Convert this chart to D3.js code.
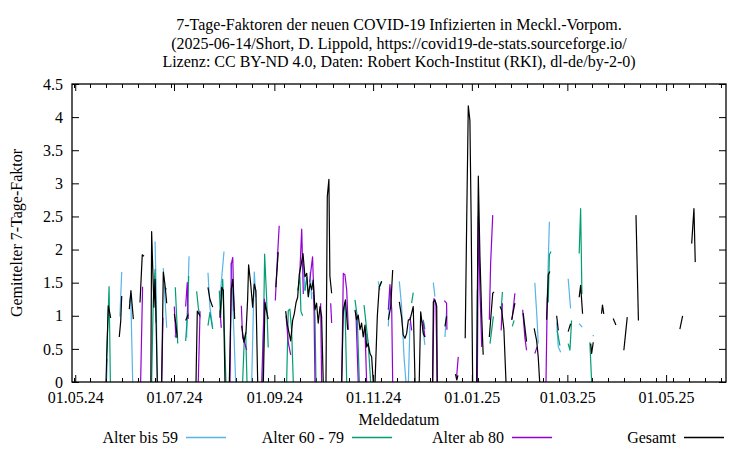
<!DOCTYPE html>
<html><head><meta charset="utf-8">
<script src="https://cdn.jsdelivr.net/npm/d3@7"></script>
<style>
body{margin:0;background:#fff}
svg{display:block}
svg text{font-family:"Liberation Serif","Times New Roman",serif !important;font-size:16px !important;fill:#000}
</style>
</head><body>
<svg id="chart" width="750" height="450" font-family="Liberation Serif" font-size="16"></svg>
<script>
const titleLines = [
  "7-Tage-Faktoren der neuen COVID-19 Infizierten in Meckl.-Vorpom.",
  "(2025-06-14/Short, D. Lippold, https://covid19-de-stats.sourceforge.io/",
  "Lizenz: CC BY-ND 4.0, Daten: Robert Koch-Institut (RKI), dl-de/by-2-0)"
];
const xLabel = "Meldedatum";
const yLabel = "Gemittelter 7-Tage-Faktor";
const seriesNames = ["Alter bis 59", "Alter 60 - 79", "Alter ab 80", "Gesamt"];
const seriesColors = ["#56b4e9", "#009e73", "#9400d3", "#000000"];
const yTicks = [0, 0.5, 1, 1.5, 2, 2.5, 3, 3.5, 4, 4.5];
const xTickDates = ["2024-05-01", "2024-07-01", "2024-09-01", "2024-11-01", "2025-01-01", "2025-03-01", "2025-05-01"];
const xStart = "2024-04-29", xEnd = "2025-06-07";
const baseDate = "2024-05-01"; // day offsets below count from this date

// segments of [day offset, value]; gaps between segments
const alterBis59 = [
  [[19.4,0.05],[19.8,0.35]],
  [[27.6,0.99],[28.7,1.66]],
  [[33.4,1.2],[34.3,1.3],[35.5,0]],
  [[49.3,2.12],[49.9,1.48],[50.7,0]],
  [[54.4,1.72],[55.4,1.28],[56.5,0.82]],
  [[61.2,0.7],[62.7,0.67]],
  [[68.8,0.67],[70.3,1.9]],
  [[82.0,1.65],[83.2,1.13],[84.9,0.82]],
  [[89.4,1.28],[90.5,1.58],[91.9,1.97]],
  [[96.2,1.8],[97.3,1.23],[99.1,0]],
  [[109.0,0],[110.6,1.66],[111.6,1.28]],
  [[124.4,1.94],[125.4,1.96]],
  [[140.9,1.78],[141.9,1.38]],
  [[145.1,1.66],[146.1,1.25]],
  [[180.0,0.73],[181.0,0.58]],
  [[187.2,1.52],[188.2,1.39]],
  [[193.4,0.84],[194.4,1.39]],
  [[200.2,1.52],[201.6,1.14],[203.1,0.38],[204.3,0]],
  [[205.8,0],[206.8,0.89]],
  [[214.4,0.88],[216.0,0.56]],
  [[221.2,1.5],[222.2,1.29]],
  [[228.4,0.68],[229.4,1.09]],
  [[283.9,1.5],[285.3,0.94],[286.0,0.58]],
  [[291.6,1.29],[292.9,2.42]],
  [[297.4,0.9],[298.4,0.53],[299.9,0.45]],
  [[304.5,1.56],[306.0,1.11]],
  [[311.3,0.88],[313.2,0.83]],
  [[319.6,0.7],[320.4,0.7]]
];
const alter60bis79 = [
  [[19.3,0.3],[20.9,1.44],[21.7,0]],
  [[47.2,0],[48.2,1.25],[49.3,1.7],[49.9,0.9]],
  [[55.4,1.43],[56.5,1.4]],
  [[61.8,1.43],[62.7,0.97],[63.3,0.58]],
  [[68.2,0.62],[69.2,0.97],[70.1,1.6]],
  [[75.0,1.37],[76.0,1.13],[77.1,0.97]],
  [[82.0,0.85],[83.2,1.05],[84.9,0.8]],
  [[89.0,1.38],[89.8,0.97],[91.1,1.55],[93.1,0]],
  [[103.4,0],[104.4,0.62],[105.3,0.75],[106.1,0]],
  [[115.8,0],[117.0,1.93],[118.2,1.28],[119.2,0.52]],
  [[130.6,0],[131.6,1.08],[132.6,1.1],[133.7,0.77],[134.7,0]],
  [[137.4,1.38],[138.8,1.58],[139.4,1.07],[140.5,1.0]],
  [[141.9,1.38],[143.0,1.58],[144.0,1.28]],
  [[147.0,1.36],[148.1,1.0],[148.7,0]],
  [[165.2,0.99],[166.6,1.19],[167.7,0]],
  [[172.8,1.24],[174.2,0.99],[175.5,0]],
  [[178.4,1.16],[179.6,0.89],[181.0,0.58],[182.5,0]],
  [[188.2,1.44],[189.3,1.52]],
  [[207.8,1.19],[208.8,1.35]],
  [[215.0,0.94],[216.0,0.8]],
  [[248.0,0],[248.4,1.39]],
  [[256.2,0.58],[258.3,0.99]],
  [[263.1,1.09],[263.9,1.36]],
  [[270.0,0.84],[271.1,0.93]],
  [[292.2,1.2],[292.9,1.92],[293.9,1.97]],
  [[297.7,0.78],[299.4,0.55]],
  [[304.5,0.58],[305.6,0.48],[306.6,0.93]],
  [[311.3,1.94],[312.2,2.62],[313.0,1.33]],
  [[317.9,0.6],[319.0,0]]
];
const alterAb80 = [
  [[40.4,0],[41.6,1.44]],
  [[53.4,0],[54.2,0.97]],
  [[61.2,1.14],[62.2,0.67]],
  [[68.2,1.14],[69.2,1.5],[69.8,0.95]],
  [[76.0,0],[77.1,1.07]],
  [[89.4,1.08],[90.2,0.82]],
  [[95.6,0],[96.4,1.78],[97.3,1.88],[98.1,1.07]],
  [[102.6,1.15],[103.4,0.67],[104.9,0.57],[105.9,0.48]],
  [[115.2,0],[116.8,1.25],[118.2,1.05]],
  [[123.6,1.23],[124.8,1.83],[126.0,2.36]],
  [[130.2,1.0],[131.6,0.6],[133.1,0.41]],
  [[138.6,1.58],[139.9,2.31],[140.9,1.33]],
  [[144.7,1.5],[146.6,1.89],[147.4,1.29],[148.1,0]],
  [[151.6,1.19],[152.2,0]],
  [[157.8,1.19],[158.4,0.89]],
  [[164.6,0],[165.6,1.64],[166.6,1.62],[167.7,1.39],[168.7,0.79]],
  [[173.4,1.04],[174.8,0]],
  [[179.0,0.79],[180.0,0]],
  [[193.4,1.09],[194.4,1.47],[195.5,1.09],[196.1,0]],
  [[206.8,0.98],[207.8,0.78]],
  [[213.4,0.94],[215.0,0.89],[216.0,0.68]],
  [[220.8,0],[221.6,1.26],[222.8,1.19],[223.6,0]],
  [[228.0,1.23],[229.4,1.19],[229.6,0.79]],
  [[235.6,0.08],[236.6,0.38]],
  [[248.4,0],[249.0,2.5],[250.0,1.39],[251.1,0.53]],
  [[255.8,0.94],[256.6,1.79],[257.9,2.52]],
  [[263.1,0.78],[263.9,1.19]],
  [[269.8,0.94],[271.6,1.34]],
  [[276.4,1.09],[277.8,0.66],[278.8,0.48]],
  [[283.9,0.43],[285.3,0.53]],
  [[290.8,0],[291.6,1.29]]
];
const gesamt = [
  [[19.0,0],[20.4,1.15],[21.0,1.08],[21.9,0.97]],
  [[27.2,0.68],[28.1,0.92],[28.7,1.30]],
  [[33.4,1.10],[34.4,1.38],[35.9,0.95]],
  [[40.0,1.2],[41.4,1.92],[42.5,1.9]],
  [[46.7,0],[47.2,2.27],[48.6,1.13],[49.3,1.55],[49.9,0.97],[50.7,0]],
  [[53.4,0],[54.4,1.66],[55.4,1.48],[56.5,1.19]],
  [[61.2,1.03],[62.2,0.87],[63.0,0.67]],
  [[68.2,0.93],[69.8,1.02]],
  [[74.6,0],[75.4,1.07],[77.1,1.0]],
  [[82.0,1.43],[83.2,1.25],[84.9,1.13]],
  [[89.4,0.97],[90.5,1.43],[91.5,1.38],[92.5,0]],
  [[95.2,0],[96.4,1.4],[97.3,1.55],[98.5,0.95]],
  [[102.8,0.85],[104.2,0.6],[105.5,0.75],[106.5,1.25],[107.1,1.77],[108.4,1.48],[109.6,1.13],[110.6,1.48],[111.6,1.38],[112.7,0]],
  [[116.2,0],[117.2,1.2],[119.2,0.95]],
  [[123.9,1.43],[125.4,1.96]],
  [[130.0,1.07],[131.0,0.87],[132.0,0.75],[133.1,0.62],[134.3,0.93],[135.3,1.03],[136.4,1.2],[137.4,1.28],[138.4,1.63],[139.4,1.75],[140.7,1.94],[141.9,1.59],[143.0,1.64],[144.0,1.29],[145.1,1.49],[146.1,1.39],[147.0,1.54],[148.1,1.09],[149.1,1.19],[150.1,0.89],[151.2,1.14],[152.2,0.99],[153.2,0]],
  [[154.9,0],[155.7,2.8],[156.7,3.06],[157.3,1.6],[158.4,1.34]],
  [[164.6,0],[165.6,1.09],[166.9,1.24],[168.3,0.79]],
  [[172.8,1.09],[173.8,0.94],[174.8,1.01],[175.9,0.79],[176.9,0.89],[177.9,0.68],[179.0,0.86],[180.0,0.53],[181.0,0.58],[182.1,0.43],[183.1,0.38],[184.1,0]],
  [[185.2,0],[186.6,0.99],[187.8,1.44],[189.3,1.52]],
  [[193.4,0.94],[194.9,1.14],[196.1,1.69]],
  [[200.2,1.21],[201.6,0.98],[202.6,0.71],[203.7,0.66],[204.7,0.73],[205.8,0.94],[206.8,0.94],[207.8,1.04],[208.8,1.14],[209.9,0]],
  [[212.5,0],[213.4,1.06],[215.0,0.73],[216.0,0.68]],
  [[220.8,0],[221.2,1.21],[222.2,1.24],[223.3,1.14],[223.6,0]],
  [[228.4,0.84],[229.4,0.99]],
  [[234.9,0.12],[235.7,0.03],[236.4,0.1]],
  [[240.9,0.66],[241.8,2.4],[242.8,4.17],[243.8,3.95],[244.6,2.4],[245.5,0]],
  [[248.0,0],[249.0,3.11],[250.0,1.89],[251.1,0.99],[252.0,0.41]],
  [[255.8,0.68],[257.9,1.34],[258.7,1.36]],
  [[262.4,1.14],[263.4,1.09],[264.8,0.79],[266.1,0]],
  [[269.6,0.94],[271.6,1.19]],
  [[276.7,1.04],[278.8,0.61]],
  [[283.5,0.81],[285.0,0.63],[286.0,0.38],[286.9,0]],
  [[291.2,0.94],[292.2,1.62],[293.2,1.67]],
  [[297.4,1.0],[298.4,0.78]],
  [[304.5,0.76],[306.0,0.88]],
  [[311.3,1.28],[312.2,1.46],[313.4,1.03]],
  [[318.4,0.58],[319.0,0.43],[320.0,0.6]],
  [[325.1,1.03],[325.7,1.16],[326.5,1.03]],
  [[332.3,0.96],[334.0,0.86]],
  [[338.9,0.48],[341.0,0.98]],
  [[346.4,2.52],[347.9,0.93]],
  [[373.5,0.8],[375.2,1.0]],
  [[380.8,2.09],[382.2,2.62],[383.0,1.81]]
];
const allSeries = [alterBis59, alter60bis79, alterAb80, gesamt];

const FONT = "Liberation Serif, Times New Roman, serif";
const svg = d3.select("#chart");
const L = 72, R = 726, T = 84, B = 382;
const parse = d3.utcParse("%Y-%m-%d");
const base = parse(baseDate);
const toDate = d => new Date(base.getTime() + d * 864e5);

const x = d3.scaleUtc().domain([parse(xStart), parse(xEnd)]).range([L, R]);
const y = d3.scaleLinear().domain([0, 4.5]).range([B, T]);

// minor x ticks every 10 days
const minor = d3.utcDay.every(1).range(parse("2024-04-30"), parse(xEnd)).filter((d, i) => i % 10 === 0);
const gMinor = svg.append("g").attr("stroke", "#000").attr("stroke-width", 1);
minor.forEach(d => {
  const xx = Math.round(x(d)) + 0.5;
  gMinor.append("line").attr("x1", xx).attr("x2", xx).attr("y1", B).attr("y2", B - 4);
  gMinor.append("line").attr("x1", xx).attr("x2", xx).attr("y1", T).attr("y2", T + 4);
});

const xt = xTickDates.map(parse);
const fmt = d3.utcFormat("%d.%m.%y");
svg.append("g").attr("transform", `translate(0,${B})`)
  .call(d3.axisBottom(x).tickValues(xt).tickSize(-7).tickPadding(10).tickFormat(fmt));
svg.append("g").attr("transform", `translate(0,${T})`)
  .call(d3.axisTop(x).tickValues(xt).tickSize(-7).tickFormat(""));
svg.append("g").attr("transform", `translate(${L},0)`)
  .call(d3.axisLeft(y).tickValues(yTicks).tickSize(-7).tickPadding(9).tickFormat(d => String(d)));
svg.append("g").attr("transform", `translate(${R},0)`)
  .call(d3.axisRight(y).tickValues(yTicks).tickSize(-7).tickFormat(""));
svg.selectAll(".domain").remove();
svg.selectAll("g[font-family]").attr("font-family", FONT).attr("font-size", 16);
svg.selectAll(".tick line").attr("stroke", "#000");
svg.selectAll(".tick text").attr("font-family", FONT).attr("font-size", 16).attr("fill", "#000");

// data lines
const line = d3.line().x(p => x(toDate(p[0]))).y(p => y(p[1]));
const gLines = svg.append("g").attr("fill", "none").attr("stroke-width", 1.2).attr("stroke-linejoin", "round");
allSeries.forEach((segs, i) => {
  gLines.append("g").attr("stroke", seriesColors[i])
    .selectAll("path").data(segs).join("path").attr("d", line);
});

// frame
svg.append("rect").attr("x", L).attr("y", T).attr("width", R - L).attr("height", B - T)
  .attr("fill", "none").attr("stroke", "#000").attr("stroke-width", 1.3);

// titles
const cx = (L + R) / 2;
svg.append("g").selectAll("text").data(titleLines).join("text")
  .attr("x", cx).attr("y", (d, i) => 30 + i * 18.5).attr("text-anchor", "middle")
  .attr("font-family", FONT).text(d => d);
svg.append("text").attr("x", cx).attr("y", 425).attr("text-anchor", "middle").attr("font-family", FONT).text(xLabel);
svg.append("text").attr("transform", `translate(22,${(T + B) / 2}) rotate(-90)`)
  .attr("text-anchor", "middle").attr("font-family", FONT).text(yLabel);

// legend
const legEnds = [178, 344, 504, 676];
const lg = svg.append("g");
seriesNames.forEach((n, i) => {
  lg.append("text").attr("x", legEnds[i]).attr("y", 443).attr("text-anchor", "end").attr("font-family", FONT).text(n);
  lg.append("path").attr("d", `M${legEnds[i] + 8},437.5H${legEnds[i] + 48}`)
    .attr("fill", "none").attr("stroke", seriesColors[i]).attr("stroke-width", 1.6);
});
</script>
</body></html>
